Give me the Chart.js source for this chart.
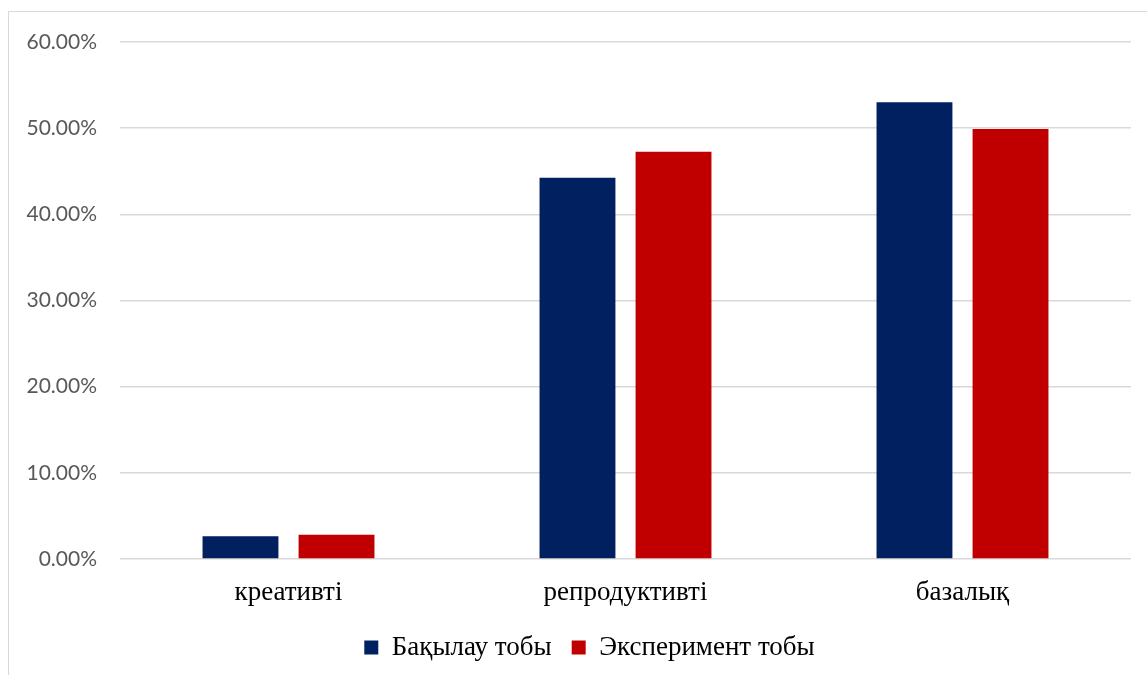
<!DOCTYPE html>
<html>
<head>
<meta charset="utf-8">
<script src="https://cdn.jsdelivr.net/npm/chart.js@4/dist/chart.umd.min.js"></script>
<style>
  html, body { margin: 0; padding: 0; background: #fff; }
  .frame {
    position: absolute; left: 8px; top: 11px;
    width: 1160px; height: 700px;
    border: 1px solid #d9d9d9;
  }
  .chart { position: absolute; left: 0; top: 0; width: 1147px; height: 675px; }
</style>
</head>
<body>
<div class="frame"></div>
<div class="chart"><canvas id="chart"></canvas></div>
<script>
let categories = ["креативті", "репродуктивті", "базалық"];
let seriesNames = ["Бақылау тобы", "Эксперимент тобы"];
let controlGroup = [2.65, 44.25, 53.0];
let experimentGroup = [2.8, 47.25, 49.9];
let yTicks = [0, 10, 20, 30, 40, 50, 60];

// legend sits a little right of the canvas centre in the original
let shiftLegend = {
    id: "shiftLegend",
    afterLayout(chart) {
        chart.legend.left += 11;
        chart.legend.right += 11;
    }
};

let canva = document.getElementById("chart");
let chart = new Chart(canva, {
    type: "bar",
    data: {
        labels: categories,
        datasets: [{
            label: seriesNames[0],
            data: controlGroup,
            backgroundColor: "#002060",
            barPercentage: 0.79,
            categoryPercentage: 0.57
        }, {
            label: seriesNames[1],
            data: experimentGroup,
            backgroundColor: "#c00000",
            barPercentage: 0.79,
            categoryPercentage: 0.57
        }]
    },
    options: {
        responsive: true,
        maintainAspectRatio: false,
        animation: false,
        layout: {
            padding: { top: 42, right: 16, bottom: 4, left: 26 }
        },
        scales: {
            x: {
                afterFit: function(scale) { scale.height = 55; },
                grid: { display: false },
                border: { display: false },
                ticks: {
                    color: "#000",
                    padding: 10,
                    font: { family: "'Liberation Serif', 'Times New Roman', serif", size: 27 }
                }
            },
            y: {
                min: 0,
                max: 60,
                afterFit: function(scale) { scale.width = 94; },
                afterBuildTicks: function(scale) { scale.ticks = yTicks.map(v => ({ value: v })); },
                grid: { color: "#d9d9d9", lineWidth: 1.5, drawTicks: false },
                border: { display: false },
                ticks: {
                    color: "#595959",
                    padding: 23,
                    font: { family: "Lato, 'Open Sans', sans-serif", size: 21 },
                    callback: function(value) { return value.toFixed(2) + "%"; }
                }
            }
        },
        plugins: {
            legend: {
                position: "bottom",
                labels: {
                    color: "#000",
                    boxWidth: 14,
                    boxHeight: 14,
                    padding: 20,
                    font: { family: "'Liberation Serif', 'Times New Roman', serif", size: 27 }
                }
            },
            tooltip: { enabled: false }
        }
    },
    plugins: [shiftLegend]
});
</script>
</body>
</html>
